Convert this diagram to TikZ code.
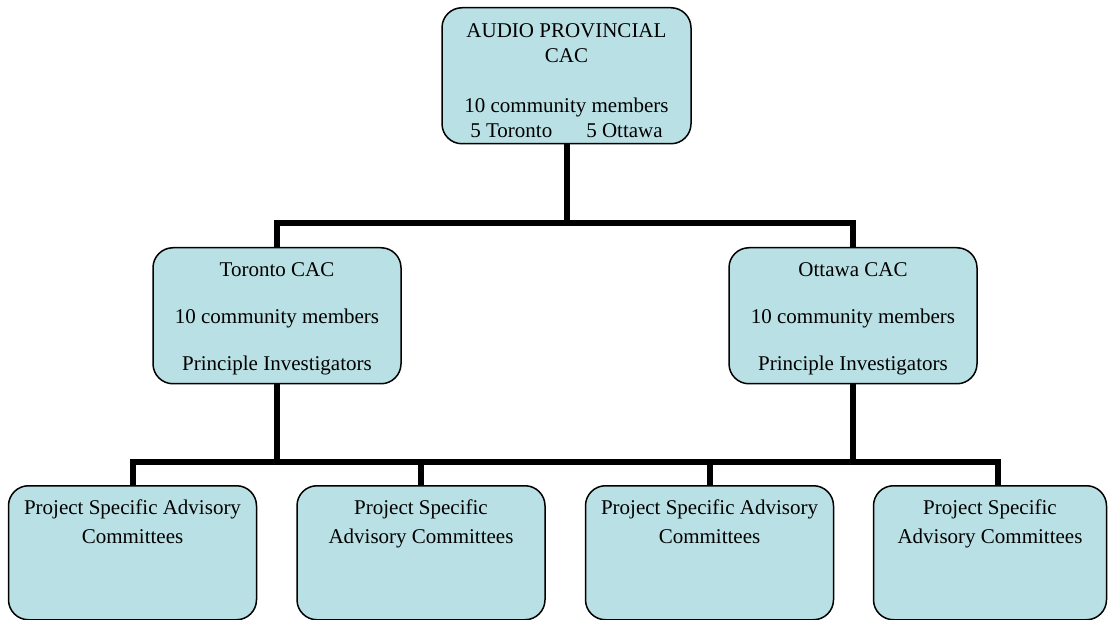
\documentclass[tikz,border=0pt]{standalone}
\usepackage{fontspec}
\setmainfont{Liberation Serif}
\usepackage{xcolor}
\definecolor{boxfill}{RGB}{185,224,228}

\begin{document}
\begin{tikzpicture}[x=1pt, y=-1pt,
  box/.style={draw, line width=1.5pt, fill=boxfill, rounded corners=20pt,
    align=center, inner sep=0pt, anchor=north, font=\fontsize{21}{25}\selectfont},
  cac/.style={box, minimum width=248pt, text height=123pt, text depth=13pt},
  psac/.style={box, minimum width=248pt, text height=58pt, text depth=76pt},
  wire/.style={line width=6pt}]
\useasboundingbox (0,0) rectangle (1109,620);
\node[box, minimum width=249pt, text height=130pt, text depth=6pt] (top) at (566.5,7)
  {AUDIO PROVINCIAL\\CAC\\[25pt]10 community members\\5 Toronto\hspace{34pt}5 Ottawa};
\node[cac] (tor) at (277,247) {Toronto CAC\\[22pt]10 community members\\[22pt]Principle Investigators};
\node[cac] (ott) at (853,247) {Ottawa CAC\\[22pt]10 community members\\[22pt]Principle Investigators};
\node[psac] (p1) at (132.5,485) {Project Specific Advisory\\[4pt]Committees};
\node[psac] (p2) at (421,485) {Project Specific\\[4pt]Advisory Committees};
\node[psac] (p3) at (709.5,485) {Project Specific Advisory\\[4pt]Committees};
\node[psac, minimum width=233pt] (p4) at (990,485) {Project Specific\\[4pt]Advisory Committees};
\coordinate (upbar) at (0,223);
\coordinate (lowbar) at (0,462);
\draw[wire] (top.south) -- (top.south |- upbar) -| (tor.north);
\draw[wire] (top.south |- upbar) -| (ott.north);
\draw[wire] (tor.south) -- (tor.south |- lowbar) -| (p1.north);
\draw[wire] (tor.south |- lowbar) -| (p2.north);
\draw[wire] (ott.south) -- (ott.south |- lowbar) -| (p3.north);
\draw[wire] (ott.south |- lowbar) -| ([xshift=8pt]p4.north);
\draw[wire] (p2.north |- lowbar) -- (p3.north |- lowbar);
\end{tikzpicture}
\end{document}
